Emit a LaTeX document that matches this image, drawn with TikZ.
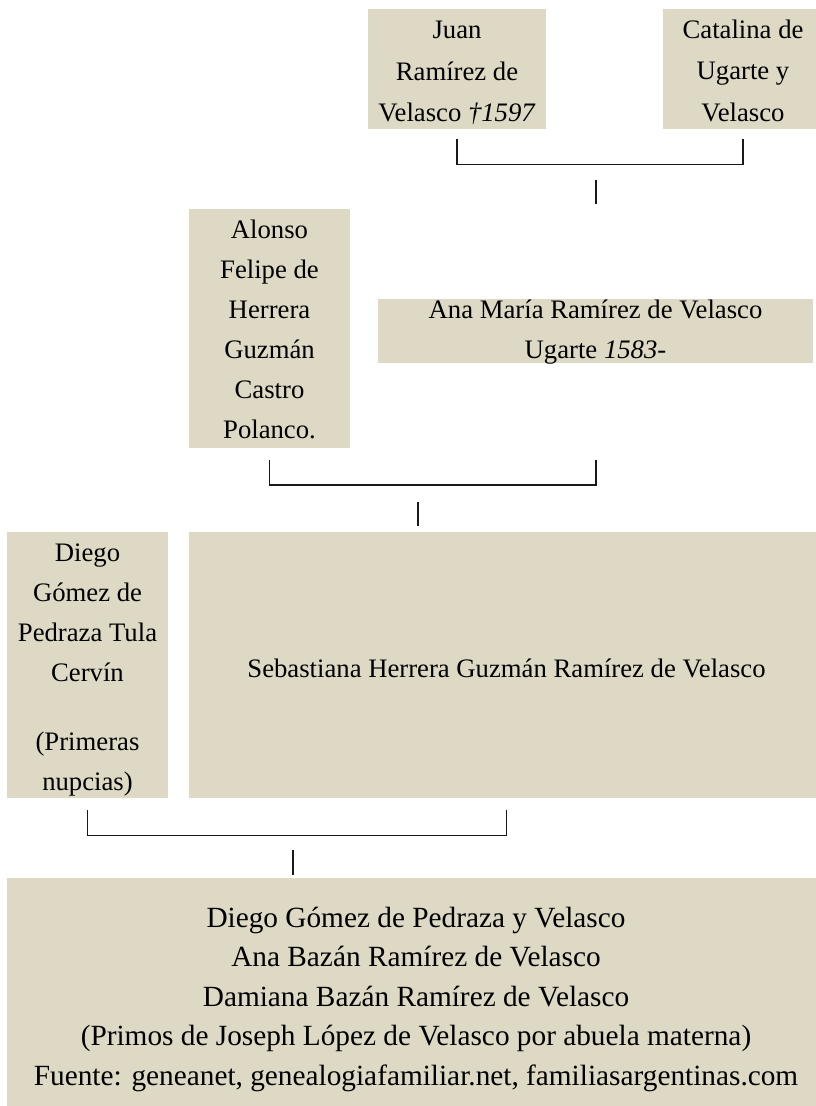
\documentclass[tikz,border=0pt]{standalone}
\usepackage{fontspec}
\setmainfont{Liberation Serif}
\definecolor{beige}{RGB}{221,217,196}
\tikzset{
  persona/.style={fill=beige, inner sep=0pt},
  texto/.style={align=center, inner sep=0pt, font=\fontsize{26.7}{40}\selectfont},
  linea/.style={black!90, line width=1.2pt}
}
\begin{document}
\begin{tikzpicture}[x=1pt, y=-1pt]
        \useasboundingbox (0,0) rectangle (816,1106);
        % abuelos
        \node[persona, minimum width=178, minimum height=120,
          label={[texto, font=\fontsize{26.7}{41.5}\selectfont, yshift=-4pt]center:{Juan\\Ramírez de\\Velasco \textit{†1597}}}] (juan) at (457,69) {};
        \node[persona, minimum width=160, minimum height=120,
          label={[texto, font=\fontsize{26.7}{41.5}\selectfont, yshift=-1.5pt]center:{Catalina de\\Ugarte y\\Velasco}}] (catalina) at (743,69) {};
        \draw[linea] ([yshift=-10pt]juan.south) |- ([yshift=-35pt]catalina.south) -- ([yshift=-10pt]catalina.south);
        \coordinate (u1a) at (596,180);
        \coordinate (u1b) at (596,204);
        \draw[linea] (u1a) -- (u1b);
        % padres
        \node[persona, minimum width=161, minimum height=239,
          label={[texto, yshift=-1pt]center:{Alonso\\Felipe de\\Herrera\\Guzmán\\Castro\\Polanco.}}] (alonso) at (269.5,328.5) {};
        \node[persona, minimum width=435, minimum height=64,
          label={[texto, yshift=-1pt]center:{Ana María Ramírez de Velasco\\Ugarte \textit{1583-}}}] (anamaria) at (595.5,331) {};
        \coordinate (b2r) at (596,460);
        \draw[linea] ([yshift=-12pt]alonso.south) |- ([yshift=-25pt]b2r) -- (b2r);
        \coordinate (u2a) at (418,502);
        \coordinate (u2b) at (418,526);
        \draw[linea] (u2a) -- (u2b);
        % matrimonio
        \node[persona, minimum width=161, minimum height=266,
          label={[texto, yshift=-5pt]center:{Diego\\Gómez de\\Pedraza Tula\\Cervín\\[29pt](Primeras\\nupcias)}}] (diego) at (87.5,665) {};
        \node[persona, minimum width=635, minimum height=266,
          label={[texto, yshift=-3pt]center:{Sebastiana Herrera Guzmán Ramírez de Velasco}}] (sebastiana) at (506.5,665) {};
        \draw[linea] ([yshift=-12pt]diego.south) |- ([yshift=-37pt]sebastiana.south) -- ([yshift=-12pt]sebastiana.south);
        \coordinate (u3a) at (293,850);
        \coordinate (u3b) at (293,875);
        \draw[linea] (u3a) -- (u3b);
        % hijos
        \node[persona, minimum width=818, minimum height=236,
          label={[texto, font=\fontsize{29.3}{39.5}\selectfont, yshift=-3pt]center:{Diego Gómez de Pedraza y Velasco\\Ana Bazán Ramírez de Velasco\\Damiana Bazán Ramírez de Velasco\\(Primos de Joseph López de Velasco por abuela materna)\\Fuente: geneanet, genealogiafamiliar.net, familiasargentinas.com}}] (hijos) at (416,996) {};
\end{tikzpicture}
\end{document}
